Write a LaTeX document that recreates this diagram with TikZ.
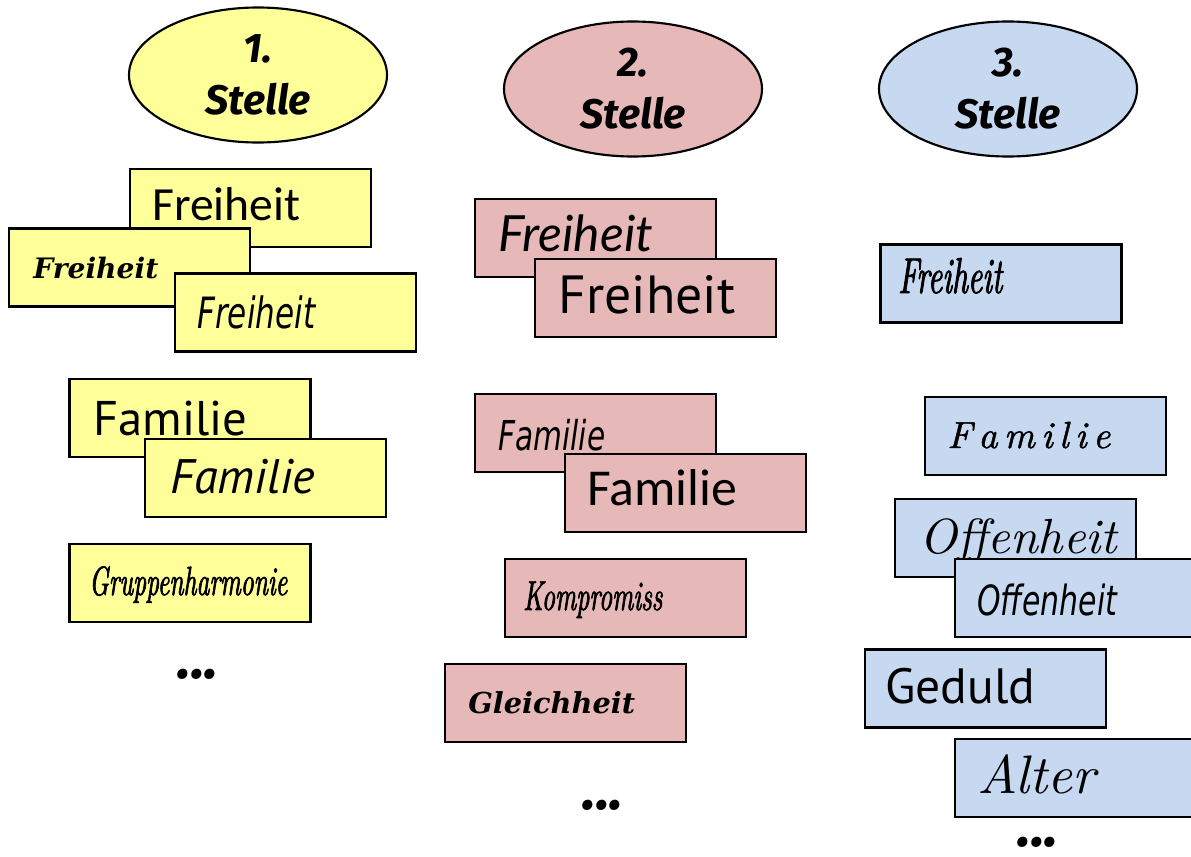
\documentclass[tikz,border=0pt]{standalone}
\usepackage{fontspec}
\usetikzlibrary{shapes.geometric}
\newfontfamily\headfont{Fira Sans}
\newfontfamily\comicfont{PT Sans}
\newfontfamily\narrowfont{DejaVu Sans}[FakeStretch=0.72]
\newfontfamily\lightfont{Carlito}
\newfontfamily\latofont{Lato}
\newfontfamily\gothfont{DejaVu Serif}
\newfontfamily\brushfont{Latin Modern Roman}[FakeStretch=0.62, FakeBold=1.6]
\newfontfamily\fancyfont{Latin Modern Roman}[FakeBold=1.2]
\newlength\pxu \setlength\pxu{0.75pt}
\newcommand\fitw[2]{\resizebox{#1\pxu}{!}{#2}}
\definecolor{cyel}{HTML}{FFFF99}
\definecolor{cpink}{HTML}{E6B9B8}
\definecolor{cblue}{HTML}{C6D9F1}
\begin{document}
\begin{tikzpicture}[x=0.75pt,y=-0.75pt,
  box/.style={draw, line width=1.6pt, rectangle, minimum width=241\pxu, minimum height=78\pxu, inner sep=0pt},
  oval/.style={draw, line width=1.6pt, ellipse, minimum width=258\pxu, minimum height=135\pxu, inner sep=0pt, align=center,
    font=\headfont\bfseries\itshape\fontsize{31}{39}\selectfont},
  lbl/.style={anchor=base west, inner sep=0pt},
  dots/.style={anchor=base, inner sep=0pt, font=\headfont\bfseries\itshape\fontsize{30}{30}\selectfont},
  yel/.style={fill=cyel}, pink/.style={fill=cpink}, blue/.style={fill=cblue}]
\path[use as bounding box] (0,0) rectangle (1191,856);
\clip (0,0) rectangle (1191,856);

% ---- column 1
\node[oval, yel] (e1) at (258,75) {1.\\Stelle};
\node[box, yel] (c1f1) at (250.5,208) {};
\node[lbl] (t1f1) at (152,220) {\fitw{148}{\lightfont Freiheit}};
\node[box, yel] (c1f2) at (129.5,267.5) {};
\node[lbl] (t1f2) at (33,278) {\fitw{125}{\gothfont\bfseries\itshape Freiheit}};
\node[box, yel] (c1f3) at (295.5,312.5) {};
\node[lbl] (t1f3) at (197,328) {\fitw{118}{\narrowfont\itshape Freiheit}};
\node[box, yel] (c1fa) at (190,418) {};
\node[lbl] (t1fa) at (93,435) {\fitw{154}{\comicfont Familie}};
\node[box, yel] (c1fb) at (265.5,478) {};
\node[lbl] (t1fb) at (170,493) {\fitw{145}{\comicfont\itshape Familie}};
\node[box, yel] (c1g) at (190,583) {};
\node[lbl] (t1g) at (89,595) {\fitw{198}{\brushfont\itshape Gruppenharmonie}};
\node[dots] (d1) at (198,678) {\fitw{41}{...}};

% ---- column 2
\node[oval, pink] (e2) at (633,89) {2.\\Stelle};
\node[box, pink] (c2fra) at (595.5,238) {};
\node[lbl] (t2fra) at (498,251) {\fitw{155}{\latofont\itshape Freiheit}};
\node[box, pink] (c2frb) at (655.5,298) {};
\node[lbl] (t2frb) at (558,313) {\fitw{177}{\comicfont Freiheit}};
\node[box, pink] (c2faa) at (595.5,433) {};
\node[lbl] (t2faa) at (498,450) {\fitw{107}{\narrowfont\itshape Familie}};
\node[box, pink] (c2fab) at (685.5,493) {};
\node[lbl] (t2fab) at (587,505) {\fitw{150}{\lightfont Familie}};
\node[box, pink] (c2k) at (625.5,598) {};
\node[lbl] (t2k) at (523,610) {\fitw{139}{\brushfont\itshape Kompromiss}};
\node[box, pink] (c2gl) at (565.5,703) {};
\node[lbl] (t2gl) at (468,713) {\fitw{167}{\gothfont\bfseries\itshape Gleichheit}};
\node[dots] (d2) at (603,809) {\fitw{41}{...}};

% ---- column 3
\node[oval, blue] (e3) at (1008,89) {3.\\Stelle};
\node[box, blue] (c3fr) at (1001,283.5) {};
\node[lbl] (t3fr) at (898,293) {\fitw{104}{\brushfont\itshape Freiheit}};
\node[box, blue] (c3fa) at (1045.5,436) {};
\node[lbl] (t3fa) at (947,448) {\fitw{163}{\fancyfont\itshape F\,a\,m\,i\,l\,i\,e}};
\node[box, blue] (c3oa) at (1015.5,538) {};
\node[lbl] (t3oa) at (919,553) {\fitw{198}{\itshape Offenheit}};
\node[box, blue] (c3ob) at (1075.5,598) {};
\node[lbl] (t3ob) at (977,615) {\fitw{140}{\narrowfont\itshape Offenheit}};
\node[box, blue] (c3ge) at (985.5,688.5) {};
\node[lbl] (t3ge) at (885,703) {\fitw{150}{\comicfont Geduld}};
\node[box, blue] (c3al) at (1075.5,778) {};
\node[lbl] (t3al) at (977,793) {\fitw{118}{\itshape Alter}};
\node[dots] (d3) at (1038,846) {\fitw{41}{...}};
\end{tikzpicture}
\end{document}
